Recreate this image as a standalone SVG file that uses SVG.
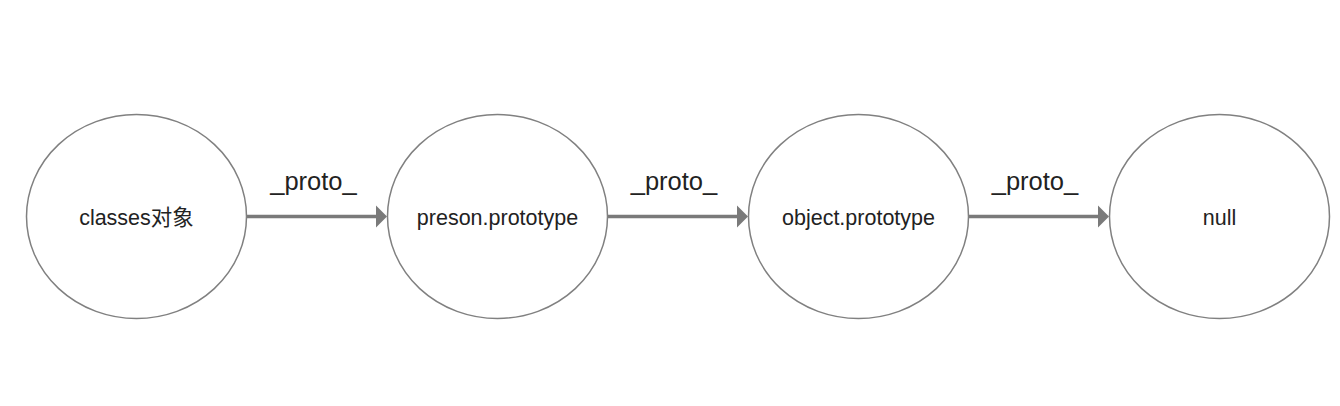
<svg xmlns="http://www.w3.org/2000/svg" width="1340" height="406" viewBox="0 0 1340 406">
<defs>
<style>
.node{fill:#fff;stroke:#808080;stroke-width:1.5}
.lbl{font-family:"Liberation Sans","Noto Sans CJK SC",Arial,sans-serif;font-size:21.5px;fill:#222;text-anchor:middle}
.edge{stroke:#7a7a7a;stroke-width:3.5;fill:none;marker-end:url(#arr)}
.elbl{font-family:"Liberation Sans",Arial,sans-serif;font-size:25.5px;fill:#222;text-anchor:middle}
</style>
<marker id="arr" viewBox="0 0 11 22" refX="0" refY="11" markerUnits="userSpaceOnUse" markerWidth="11" markerHeight="22" orient="auto" overflow="visible">
<path d="M0,0 L11,11 L0,22 Z" fill="#7a7a7a"/>
</marker>
</defs>
<rect width="1340" height="406" fill="#fff"/>
<g id="connectors">
<line class="edge" x1="247" y1="216.5" x2="376" y2="216.5"/>
<text class="elbl" x="313.5" y="190">_proto_</text>
<line class="edge" x1="608" y1="216.5" x2="737" y2="216.5"/>
<text class="elbl" x="674" y="190">_proto_</text>
<line class="edge" x1="969" y1="216.5" x2="1098" y2="216.5"/>
<text class="elbl" x="1035" y="190">_proto_</text>
</g>
<g id="node-classes">
<ellipse class="node" cx="136.5" cy="216.5" rx="110" ry="102"/>
<text class="lbl" x="136.5" y="225">classes对象</text>
</g>
<g id="node-preson">
<ellipse class="node" cx="497.5" cy="216.5" rx="110" ry="102"/>
<text class="lbl" x="497.5" y="225">preson.prototype</text>
</g>
<g id="node-object">
<ellipse class="node" cx="858.5" cy="216.5" rx="110" ry="102"/>
<text class="lbl" x="858.5" y="225">object.prototype</text>
</g>
<g id="node-null">
<ellipse class="node" cx="1219.5" cy="216.5" rx="110" ry="102"/>
<text class="lbl" x="1219.5" y="225">null</text>
</g>
</svg>
